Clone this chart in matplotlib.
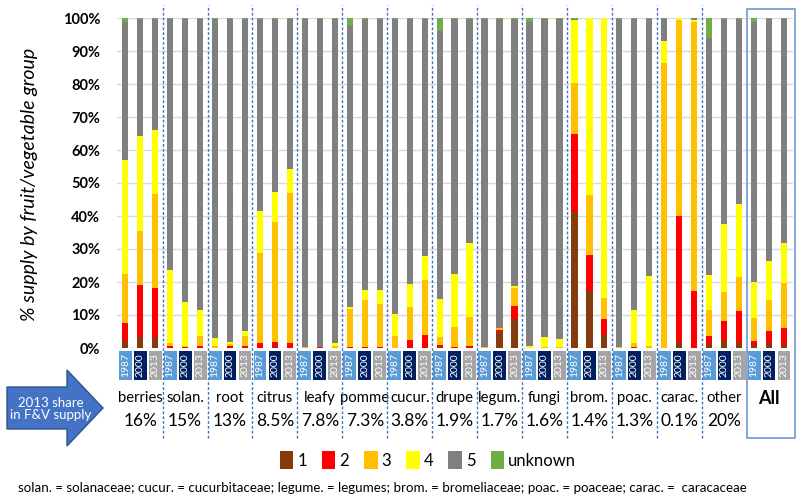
import matplotlib
matplotlib.use("Agg")
import matplotlib.pyplot as plt
import matplotlib.patches as mpatches
import numpy as np

plt.rcParams['font.family'] = ['Lato', 'DejaVu Sans']

groups = ['berries', 'solan.', 'root', 'citrus', 'leafy', 'pomme', 'cucur.', 'drupe',
          'legum.', 'fungi', 'brom.', 'poac.', 'carac.', 'other', 'All']
shares = ['16%', '15%', '13%', '8.5%', '7.8%', '7.3%', '3.8%', '1.9%', '1.7%', '1.6%',
          '1.4%', '1.3%', '0.1%', '20%', '']
years = ['1987', '2000', '2013']

# values per group: [1987, 2000, 2013]
cat1 = [[2.0, 3.3, 3.0], [0, 0, 0], [0, 0, 0], [0, 0.2, 0], [0, 0, 0], [0, 0, 0],
        [0, 0, 0], [0.3, 0, 0], [0, 4.7, 8.9], [0, 0, 0], [41.1, 17.4, 4.0],
        [0, 0.3, 0], [0, 1.7, 0], [1.2, 2.2, 1.5], [0.8, 1.5, 1.0]]
cat2 = [[5.6, 15.8, 15.1], [0.5, 0.3, 0.7], [0, 0.7, 0.7], [1.4, 1.7, 1.4], [0, 0.3, 0],
        [0.3, 0.3, 0.3], [0, 2.3, 4.0], [0.5, 0.3, 0.5], [0, 0.9, 3.7], [0, 0, 0],
        [23.9, 10.7, 4.8], [0, 0, 0], [0, 38.4, 17.2], [2.5, 6.1, 9.6], [1.2, 3.8, 5.0]]
cat3 = [[14.9, 16.3, 28.7], [1.0, 0.2, 3.0], [0.5, 0.5, 2.8], [27.5, 36.2, 45.6],
        [0.2, 0, 0.5], [11.5, 14.3, 12.9], [3.7, 10.0, 16.7], [2.4, 6.0, 8.9],
        [0.2, 0.5, 5.5], [0, 0.3, 0.2], [15.3, 18.2, 6.3], [0.3, 1.2, 0.7],
        [86.4, 59.4, 81.5], [7.7, 8.6, 10.3], [7.1, 9.1, 13.7]]
cat4 = [[34.5, 28.8, 19.4], [22.2, 13.3, 7.9], [2.5, 0.7, 1.8], [12.5, 9.2, 7.1],
        [0, 0, 1.0], [0.5, 3.1, 4.3], [6.7, 7.2, 7.1], [11.6, 16.1, 22.4],
        [0, 0, 0.6], [0.7, 2.9, 2.5], [19.2, 53.7, 84.9], [0, 10.1, 21.0],
        [6.5, 0.5, 0.8], [10.8, 20.8, 22.3], [10.8, 12.1, 12.1]]
cat5 = [[41.7, 35.5, 33.5], [76.0, 86.0, 88.2], [96.8, 97.9, 94.5], [58.4, 52.5, 45.7],
        [99.6, 99.5, 98.3], [85.7, 82.0, 82.2], [89.4, 80.3, 72.0], [81.4, 77.4, 68.0],
        [99.6, 93.7, 81.1], [98.1, 96.6, 97.1], [0.3, 0, 0], [99.5, 88.2, 78.1],
        [6.9, 0, 0.5], [71.7, 62.1, 56.1], [78.8, 73.3, 68.0]]
unknown = [[1.3, 0.3, 0.3], [0.3, 0.2, 0.2], [0.2, 0.2, 0.2], [0.2, 0.2, 0.2],
           [0.2, 0.2, 0.2], [2.0, 0.3, 0.3], [0.2, 0.2, 0.2], [3.8, 0.2, 0.2],
           [0.2, 0.2, 0.2], [1.2, 0.2, 0.2], [0.2, 0, 0], [0.2, 0.2, 0.2],
           [0.2, 0, 0], [6.1, 0.2, 0.2], [1.3, 0.2, 0.2]]

series_names = ['1', '2', '3', '4', '5', 'unknown']
series_colors = ['#843C0C', '#FF0000', '#FFC000', '#FFFF00', '#808080', '#70AD47']
year_colors = ['#5B9BD5', '#002060', '#A5A5A5']

series = [np.array(s).flatten() for s in (cat1, cat2, cat3, cat4, cat5, unknown)]
n = len(series[0])
x = np.arange(n)

fig = plt.figure(figsize=(8, 4.96), dpi=100)
ax = fig.add_axes([117 / 800, 148 / 496, 676 / 800, 330 / 496])

bottom = np.zeros(n)
for vals, col in zip(series, series_colors):
    ax.bar(x, vals, bottom=bottom, width=0.42, color=col, zorder=3, linewidth=0)
    bottom += vals

ax.set_xlim(-0.55, 44.6)
ax.set_ylim(0, 100)
ax.set_yticks(np.arange(0, 101, 10))
ax.set_yticklabels([f'{v}%' for v in range(0, 101, 10)], fontsize=10.5, fontweight='bold')
ax.tick_params(axis='y', length=0, pad=12)
ax.set_xticks([])
ax.grid(axis='y', color='#D9D9D9', linewidth=1, zorder=0)
for s in ax.spines.values():
    s.set_visible(False)

# year boxes
for i in range(n):
    k = i % 3
    ax.add_patch(mpatches.Rectangle((i - 0.43, -9.7), 0.86, 8.8, facecolor=year_colors[k],
                                    edgecolor='none', clip_on=False, zorder=3))
    ax.text(i, -5.3, years[k], rotation=90, ha='center', va='center', color='white',
            fontsize=7.5, clip_on=False, zorder=4)

# group labels and shares
for g, (name, sh) in enumerate(zip(groups, shares)):
    cx = g * 3 + 1
    if name == 'All':
        ax.text(cx, -15.2, name, ha='center', va='center', fontsize=13, fontweight='bold',
                clip_on=False)
    else:
        ax.text(cx, -15.2, name, ha='center', va='center', fontsize=10.7, clip_on=False)
        ax.text(cx, -22.1, sh, ha='center', va='center', fontsize=12.5, clip_on=False)

# dividers
for g in range(len(groups) - 2):
    xd = g * 3 + 2.5
    ax.plot([xd, xd], [-27.3, 103.8], color='#4472C4', linestyle=(0, (2, 1.5)),
            linewidth=1.0, clip_on=False, zorder=5)

# All box
ax.add_patch(mpatches.Rectangle((41.5, -27.3), 3.25, 129.9, facecolor='none',
                                edgecolor='#6F97D6', linewidth=1.2, clip_on=False, zorder=5))

# y label
fig.text(30 / 800, 1 - 184 / 496, '% supply by fruit/vegetable group', rotation=90,
         ha='center', va='center', fontsize=14, style='italic')

# overlay for arrow and footnote
ov = fig.add_axes([0, 0, 1, 1], facecolor='none')
ov.set_xlim(0, 800)
ov.set_ylim(496, 0)
ov.axis('off')
arrow = mpatches.Polygon([(7, 387), (67, 387), (67, 370), (103, 408), (67, 446),
                          (67, 429), (7, 429)], closed=True, facecolor='#4472C4',
                         edgecolor='#2F528F', linewidth=1)
ov.add_patch(arrow)
ov.text(51, 409, '2013 share\nin F&V supply', ha='center', va='center', color='white',
        fontsize=9.5, linespacing=1.05)
ov.text(18, 488, 'solan. = solanaceae; cucur. = cucurbitaceae; legume. = legumes; '
        'brom. = bromeliaceae; poac. = poaceae; carac. =  caracaceae',
        ha='left', va='center', fontsize=9.6)

handles = [mpatches.Patch(facecolor=c, edgecolor='none', label=l)
           for c, l in zip(series_colors, series_names)]
fig.legend(handles=handles, loc='center', bbox_to_anchor=(428 / 800, 1 - 460 / 496),
           ncol=6, frameon=False, fontsize=12, handlelength=0.8, handleheight=1.3,
           handletextpad=0.25, columnspacing=0.9, borderpad=0)

fig.savefig('out.png', dpi=100)
